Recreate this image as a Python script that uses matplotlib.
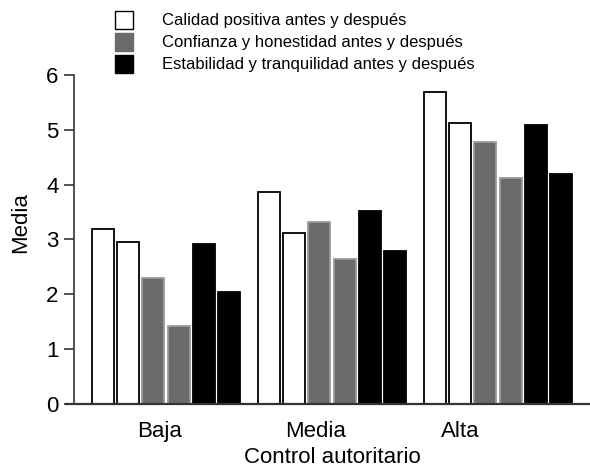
import matplotlib
matplotlib.use("Agg")
import matplotlib.pyplot as plt
import numpy as np
from matplotlib.patches import Rectangle

plt.rcParams["font.family"] = ["Liberation Sans", "DejaVu Sans"]

# ── data ──────────────────────────────────────────────
groups = ["Baja", "Media", "Alta"]
series = [
    "Calidad positiva antes y después",
    "Confianza y honestidad antes y después",
    "Estabilidad y tranquilidad antes y después",
]
# before / after per series, per group
calidad_antes = [3.20, 3.87, 5.69]
calidad_despues = [2.95, 3.12, 5.12]
confianza_antes = [2.30, 3.32, 4.78]
confianza_despues = [1.42, 2.65, 4.13]
estabilidad_antes = [2.92, 3.52, 5.08]
estabilidad_despues = [2.05, 2.79, 4.20]

FILLS = ["#FFFFFF", "#6B6B6B", "#000000"]
EDGES = ["#000000", "#9A9A9A", "#000000"]
W, H = 590, 468

fig = plt.figure(figsize=(5.9, 4.68), dpi=100)
ax = fig.add_axes([0.1254, 0.1368, 0.8746, 0.7029])

x = np.arange(len(groups))
pitch = 0.1524
width = 0.1325
bars = [calidad_antes, calidad_despues, confianza_antes,
        confianza_despues, estabilidad_antes, estabilidad_despues]
for i, vals in enumerate(bars):
    s = i // 2
    ax.bar(x + (i - 2.5) * pitch, vals, width=width,
           color=FILLS[s], edgecolor=EDGES[s], linewidth=1.3, zorder=3)

ax.set_ylim(0, 6)
ax.set_yticks(range(7))
ax.tick_params(axis="y", labelsize=16, length=7, width=1.2, color="#333333",
               direction="out", pad=4)
# category labels sit slightly left of the bar groups, as in the original
ax.set_xticks(x + np.array([-0.04, -0.10, -0.23]))
ax.set_xticklabels(groups, fontsize=16)
ax.tick_params(axis="x", length=0, pad=12)

for side in ["top", "right", "bottom"]:
    ax.spines[side].set_visible(False)
ax.spines["left"].set_linewidth(1.2)
ax.spines["left"].set_color("#333333")
ax.plot([-0.6, 2.6], [0, 0], color="#333333", lw=1.6, clip_on=False, zorder=4)
ax.set_xlim(-0.554, 2.554)

ax.set_ylabel("Media", fontsize=16)
ax.yaxis.set_label_coords(-0.083, 0.55)
ax.set_xlabel("Control autoritario", fontsize=16, labelpad=4)

# legend: squares and labels placed in figure pixels
for i, name in enumerate(series):
    yc = [20, 42, 64][i]
    fig.patches.append(Rectangle((115 / W, 1 - (yc + 9) / H), 18 / W, 18 / H,
                                 transform=fig.transFigure, facecolor=FILLS[i],
                                 edgecolor="#000000" if i != 1 else "#6B6B6B",
                                 linewidth=1.0))
    fig.text(162 / W, 1 - yc / H, name, fontsize=12, va="center", ha="left")

fig.savefig("out.png", dpi=100, facecolor="white")
